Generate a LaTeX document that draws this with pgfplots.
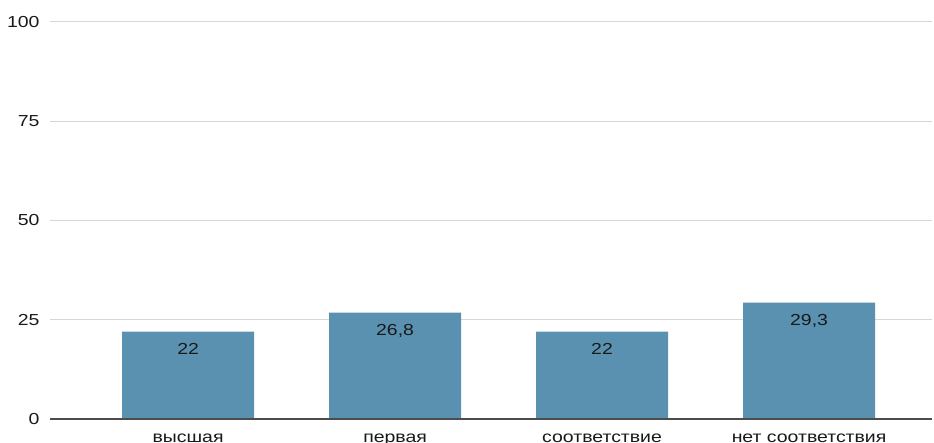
\documentclass[border=0pt]{standalone}
\usepackage{pgfplots}
\pgfplotsset{compat=1.18}
\usepackage{fontspec}
\setmainfont{Liberation Sans}[FakeStretch=1.22]
\definecolor{barblue}{RGB}{90,145,176}
\definecolor{gridgray}{RGB}{215,215,215}
\definecolor{txt}{RGB}{25,25,25}

\begin{document}
\begin{tikzpicture}[x=1bp,y=1bp]
\path[use as bounding box] (0,0) rectangle (934,443);
\begin{axis}[
    at={(50bp,24bp)}, anchor=south west,
    scale only axis,
    width=882bp, height=397bp,
    ymin=0, ymax=100,
    ytick={0,25,50,75,100},
    xmin=-0.667, xmax=3.594,
    xtick=data,
    xticklabels={высшая,первая,соответствие,нет соответствия},
    axis line style={draw=none},
    ymajorgrids,
    grid style={gridgray, line width=1bp},
    major tick length=0pt,
    ybar, bar width=0.638,
    bar shift=0pt,
    tick label style={font=\fontsize{16}{19}\selectfont, text=txt},
    yticklabel style={xshift=-7bp},
    xticklabel style={yshift=-11bp},
    /pgf/number format/assume math mode=true,
    /pgf/number format/use comma,
    nodes near coords,
    every node near coord/.append style={font=\fontsize{16}{19}\selectfont, text=txt, anchor=north, yshift=-8bp},
    clip=false,
]
\addplot[fill=barblue, draw=none] coordinates {(0,22) (1,26.8) (2,22) (3,29.3)};
\draw[black!70, line width=1.2bp] (axis cs:-0.667,0) -- (axis cs:3.594,0);
\end{axis}
\end{tikzpicture}
\end{document}
